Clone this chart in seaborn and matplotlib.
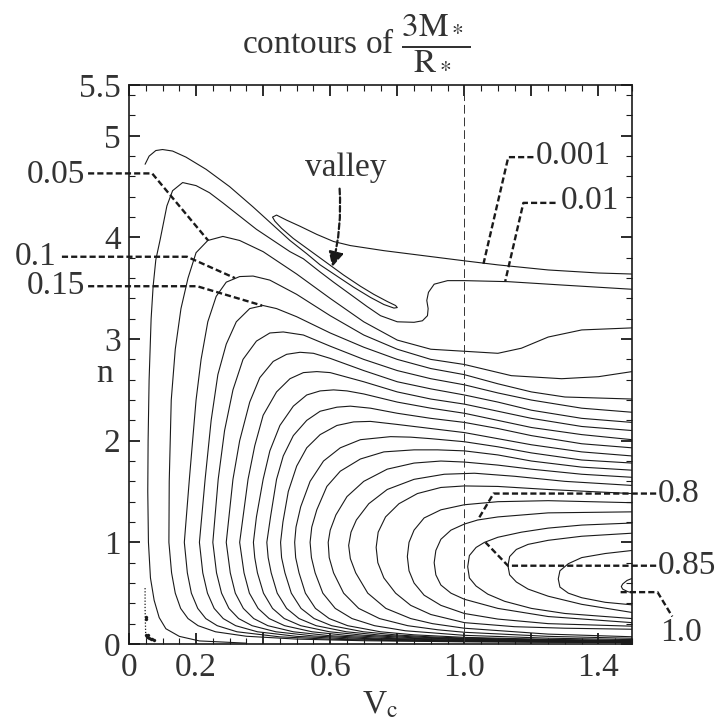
import numpy as np
import pandas as pd
import matplotlib
matplotlib.use("Agg")
import matplotlib.pyplot as plt
from matplotlib.ticker import FixedLocator, MultipleLocator
import seaborn as sns

# contour paths (V_c, n), one list per level
lvl_0001 = [(1.5, 3.64), (1.4, 3.65), (1.25, 3.68), (1.1, 3.73), (1.0, 3.77), (0.88, 3.82), (0.76, 3.87),
            (0.66, 3.92), (0.61, 3.96), (0.56, 4.03), (0.51, 4.11), (0.47, 4.17), (0.44, 4.22), (0.428, 4.20),
            (0.435, 4.16), (0.455, 4.09), (0.49, 3.99), (0.54, 3.87), (0.59, 3.75), (0.64, 3.63), (0.69, 3.52),
            (0.73, 3.44), (0.77, 3.37), (0.795, 3.33), (0.80, 3.31), (0.79, 3.305), (0.76, 3.34), (0.72, 3.41),
            (0.67, 3.51), (0.62, 3.62), (0.57, 3.73), (0.53, 3.84), (0.48, 3.97), (0.43, 4.12), (0.37, 4.30),
            (0.30, 4.50), (0.23, 4.67), (0.17, 4.79), (0.13, 4.85), (0.10, 4.865), (0.08, 4.855), (0.06, 4.80),
            (0.048, 4.72)]
lvl_001 = [(1.5, 3.49), (1.3, 3.53), (1.13, 3.565), (1.0, 3.575), (0.95, 3.575), (0.91, 3.54), (0.893, 3.46),
           (0.888, 3.38), (0.892, 3.30), (0.89, 3.23), (0.875, 3.18), (0.85, 3.165), (0.80, 3.17), (0.75, 3.23),
           (0.71, 3.32), (0.66, 3.44), (0.61, 3.56), (0.57, 3.66), (0.52, 3.79), (0.48, 3.86), (0.43, 3.97),
           (0.38, 4.08), (0.33, 4.21), (0.28, 4.34), (0.24, 4.44), (0.20, 4.51), (0.16, 4.54), (0.13, 4.46),
           (0.113, 4.31), (0.093, 3.98), (0.08, 3.78), (0.072, 3.52), (0.066, 3.2), (0.06, 2.6), (0.057, 2.0),
           (0.056, 1.5), (0.058, 1.0), (0.064, 0.65), (0.075, 0.43), (0.09, 0.26), (0.11, 0.15), (0.15, 0.075),
           (0.21, 0.03), (0.35, 0.008)]
lvl_005 = [(1.5, 3.11), (1.35, 3.09), (1.25, 3.02), (1.17, 2.91), (1.1, 2.86), (1.0, 2.88), (0.9, 2.90),
           (0.8, 2.99), (0.7, 3.17), (0.6, 3.40), (0.5, 3.64), (0.4, 3.86), (0.33, 3.97), (0.28, 4.01),
           (0.235, 3.97), (0.2, 3.85), (0.176, 3.6), (0.155, 3.3), (0.138, 2.9), (0.126, 2.4), (0.12, 1.6),
           (0.119, 1.0), (0.127, 0.7), (0.138, 0.5), (0.154, 0.35), (0.176, 0.25), (0.206, 0.18), (0.258, 0.12),
           (0.35, 0.076), (0.5, 0.048), (0.7, 0.032), (1.0, 0.021), (1.25, 0.017), (1.5, 0.014)]
lvl_010 = [(1.5, 2.68), (1.4, 2.63), (1.29, 2.61), (1.14, 2.64), (1.0, 2.75), (0.9, 2.80), (0.8, 2.90),
           (0.7, 3.04), (0.6, 3.23), (0.5, 3.44), (0.42, 3.58), (0.37, 3.62), (0.33, 3.615), (0.29, 3.56),
           (0.26, 3.42), (0.235, 3.17), (0.215, 2.8), (0.20, 2.4), (0.18, 1.62), (0.165, 1.0), (0.174, 0.7),
           (0.186, 0.5), (0.205, 0.35), (0.229, 0.25), (0.263, 0.18), (0.322, 0.12), (0.45, 0.07), (0.6, 0.047),
           (0.8, 0.033), (1.0, 0.025), (1.25, 0.019), (1.5, 0.016)]
lvl_015 = [(1.5, 2.41), (1.3, 2.43), (1.2, 2.48), (1.1, 2.56), (1.0, 2.65), (0.9, 2.71), (0.8, 2.80),
           (0.7, 2.92), (0.6, 3.06), (0.5, 3.22), (0.44, 3.30), (0.40, 3.33), (0.36, 3.30), (0.32, 3.17),
           (0.29, 2.95), (0.265, 2.65), (0.245, 2.2), (0.227, 1.62), (0.21, 1.0), (0.22, 0.7), (0.234, 0.5),
           (0.254, 0.35), (0.281, 0.25), (0.318, 0.18), (0.383, 0.12), (0.5, 0.075), (0.65, 0.051),
           (0.8, 0.039), (1.0, 0.029), (1.25, 0.022), (1.5, 0.018)]
lvl_020 = [(1.5, 2.28), (1.35, 2.32), (1.2, 2.40), (1.1, 2.47), (1.0, 2.55), (0.9, 2.61), (0.8, 2.69),
           (0.7, 2.80), (0.6, 2.93), (0.52, 3.04), (0.46, 3.07), (0.42, 3.06), (0.38, 2.98), (0.34, 2.8),
           (0.31, 2.5), (0.285, 2.1), (0.266, 1.62), (0.25, 1.0), (0.261, 0.7), (0.276, 0.5), (0.298, 0.35),
           (0.327, 0.25), (0.367, 0.18), (0.438, 0.12), (0.55, 0.079), (0.7, 0.054), (0.85, 0.041),
           (1.0, 0.033), (1.25, 0.025), (1.5, 0.02)]
lvl_025 = [(1.5, 2.18), (1.35, 2.22), (1.2, 2.30), (1.1, 2.38), (1.0, 2.45), (0.9, 2.51), (0.8, 2.58),
           (0.7, 2.69), (0.6, 2.81), (0.55, 2.86), (0.51, 2.87), (0.47, 2.85), (0.43, 2.78), (0.39, 2.62),
           (0.36, 2.38), (0.33, 2.0), (0.31, 1.62), (0.29, 1.0), (0.302, 0.7), (0.317, 0.5), (0.341, 0.35),
           (0.372, 0.25), (0.414, 0.18), (0.49, 0.12), (0.6, 0.081), (0.75, 0.056), (0.9, 0.043),
           (1.0, 0.037), (1.25, 0.028), (1.5, 0.022)]
lvl_030 = [(1.5, 2.10), (1.35, 2.14), (1.2, 2.22), (1.1, 2.29), (1.0, 2.36), (0.9, 2.41), (0.8, 2.48),
           (0.7, 2.58), (0.6, 2.67), (0.56, 2.68), (0.52, 2.67), (0.48, 2.61), (0.44, 2.48), (0.40, 2.25),
           (0.375, 1.95), (0.355, 1.62), (0.33, 1.0), (0.343, 0.7), (0.359, 0.5), (0.385, 0.35), (0.418, 0.25),
           (0.464, 0.18), (0.546, 0.12), (0.65, 0.084), (0.8, 0.059), (1.0, 0.042), (1.25, 0.031), (1.5, 0.025)]
lvl_035 = [(1.5, 2.01), (1.35, 2.06), (1.2, 2.13), (1.1, 2.20), (1.0, 2.27), (0.9, 2.32), (0.8, 2.38),
           (0.7, 2.46), (0.65, 2.49), (0.61, 2.50), (0.57, 2.49), (0.53, 2.45), (0.49, 2.34), (0.45, 2.15),
           (0.42, 1.9), (0.40, 1.62), (0.38, 1.25), (0.371, 1.0), (0.375, 0.85), (0.383, 0.7), (0.401, 0.5),
           (0.428, 0.35), (0.463, 0.25), (0.512, 0.18), (0.598, 0.12), (0.7, 0.086), (0.85, 0.061),
           (1.0, 0.047), (1.25, 0.034), (1.5, 0.027)]
lvl_040 = [(1.5, 1.93), (1.35, 1.97), (1.2, 2.05), (1.1, 2.12), (1.0, 2.18), (0.9, 2.22), (0.8, 2.27),
           (0.72, 2.32), (0.66, 2.34), (0.62, 2.33), (0.57, 2.29), (0.53, 2.2), (0.49, 2.05), (0.46, 1.85),
           (0.44, 1.62), (0.422, 1.25), (0.411, 1.0), (0.415, 0.85), (0.424, 0.7), (0.442, 0.5), (0.47, 0.35),
           (0.507, 0.25), (0.558, 0.18), (0.648, 0.12), (0.75, 0.087), (0.88, 0.065), (1.0, 0.052),
           (1.25, 0.037), (1.5, 0.029)]
lvl_045 = [(1.5, 1.85), (1.35, 1.89), (1.2, 1.96), (1.1, 2.02), (1.0, 2.08), (0.9, 2.12), (0.8, 2.16),
           (0.72, 2.19), (0.67, 2.185), (0.62, 2.15), (0.57, 2.06), (0.53, 1.93), (0.50, 1.75), (0.475, 1.5),
           (0.459, 1.2), (0.452, 1.0), (0.455, 0.85), (0.465, 0.7), (0.484, 0.5), (0.513, 0.35), (0.552, 0.25),
           (0.604, 0.18), (0.699, 0.12), (0.8, 0.088), (0.9, 0.07), (1.0, 0.058), (1.25, 0.041), (1.5, 0.031)]
lvl_050 = [(1.5, 1.78), (1.35, 1.81), (1.2, 1.88), (1.1, 1.94), (1.0, 1.99), (0.9, 2.02), (0.84, 2.035),
           (0.78, 2.04), (0.69, 2.01), (0.63, 1.93), (0.58, 1.8), (0.54, 1.6), (0.512, 1.35), (0.498, 1.15),
           (0.494, 1.0), (0.497, 0.85), (0.507, 0.7), (0.526, 0.5), (0.556, 0.35), (0.597, 0.25),
           (0.652, 0.18), (0.75, 0.12), (0.85, 0.09), (1.0, 0.065), (1.25, 0.045), (1.5, 0.034)]
lvl_055 = [(1.5, 1.71), (1.35, 1.74), (1.2, 1.80), (1.1, 1.86), (1.0, 1.90), (0.92, 1.91), (0.85, 1.91),
           (0.76, 1.89), (0.69, 1.82), (0.63, 1.70), (0.59, 1.55), (0.56, 1.32), (0.545, 1.15), (0.54, 1.0),
           (0.544, 0.85), (0.555, 0.7), (0.578, 0.5), (0.615, 0.35), (0.665, 0.25), (0.732, 0.18),
           (0.824, 0.13), (1.0, 0.085), (1.25, 0.057), (1.5, 0.043)]
lvl_060 = [(1.5, 1.64), (1.35, 1.67), (1.2, 1.72), (1.1, 1.76), (1.0, 1.79), (0.93, 1.80), (0.85, 1.78),
           (0.77, 1.72), (0.70, 1.60), (0.65, 1.45), (0.617, 1.27), (0.6, 1.12), (0.594, 1.0), (0.597, 0.85),
           (0.61, 0.7), (0.64, 0.5), (0.685, 0.35), (0.747, 0.25), (0.831, 0.18), (0.92, 0.14), (1.0, 0.115),
           (1.25, 0.075), (1.5, 0.056)]
lvl_065 = [(1.5, 1.56), (1.3, 1.60), (1.15, 1.65), (1.03, 1.68), (0.94, 1.67), (0.85, 1.62), (0.77, 1.52),
           (0.715, 1.38), (0.678, 1.22), (0.662, 1.1), (0.655, 0.97), (0.66, 0.84), (0.676, 0.7),
           (0.712, 0.5), (0.766, 0.35), (0.84, 0.25), (0.905, 0.2), (1.0, 0.155), (1.25, 0.097), (1.5, 0.071)]
lvl_070 = [(1.5, 1.48), (1.25, 1.52), (1.1, 1.55), (1.0, 1.555), (0.93, 1.54), (0.86, 1.48), (0.805, 1.38),
           (0.765, 1.25), (0.743, 1.1), (0.737, 0.95), (0.742, 0.8), (0.76, 0.65), (0.795, 0.50), (0.84, 0.38),
           (0.9, 0.29), (1.0, 0.21), (1.15, 0.17), (1.3, 0.155), (1.5, 0.145)]
lvl_075 = [(1.5, 1.39), (1.25, 1.41), (1.1, 1.40), (1.0, 1.37), (0.93, 1.32), (0.88, 1.24), (0.85, 1.12),
           (0.835, 1.0), (0.83, 0.86), (0.835, 0.72), (0.85, 0.6), (0.88, 0.48), (0.93, 0.38), (1.0, 0.30),
           (1.1, 0.245), (1.25, 0.20), (1.5, 0.175)]
lvl_080 = [(1.5, 1.30), (1.25, 1.29), (1.1, 1.25), (1.04, 1.22), (1.0, 1.18), (0.96, 1.12), (0.93, 1.03),
           (0.915, 0.92), (0.91, 0.80), (0.915, 0.68), (0.93, 0.58), (0.96, 0.50), (1.0, 0.44), (1.1, 0.35),
           (1.25, 0.27), (1.5, 0.21)]
lvl_085 = [(1.5, 1.19), (1.35, 1.17), (1.25, 1.14), (1.17, 1.10), (1.1, 1.05), (1.06, 1.0), (1.035, 0.95),
           (1.015, 0.87), (1.01, 0.76), (1.015, 0.65), (1.035, 0.57), (1.07, 0.49), (1.12, 0.42), (1.2, 0.35),
           (1.3, 0.30), (1.5, 0.25)]
lvl_090 = [(1.5, 1.09), (1.35, 1.06), (1.25, 1.02), (1.19, 0.98), (1.155, 0.93), (1.135, 0.86), (1.13, 0.77),
           (1.135, 0.68), (1.155, 0.61), (1.19, 0.54), (1.25, 0.47), (1.35, 0.39), (1.5, 0.31)]
lvl_095 = [(1.5, 0.92), (1.42, 0.89), (1.35, 0.85), (1.31, 0.79), (1.285, 0.72), (1.28, 0.64), (1.285, 0.56),
           (1.31, 0.50), (1.35, 0.455), (1.42, 0.41), (1.5, 0.385)]
lvl_100 = [(1.5, 0.645), (1.485, 0.625), (1.472, 0.59), (1.468, 0.565), (1.472, 0.54), (1.487, 0.515),
           (1.5, 0.505)]

contours = {"0.001": lvl_0001, "0.01": lvl_001, "0.05": lvl_005, "0.1": lvl_010, "0.15": lvl_015,
            "0.2": lvl_020, "0.25": lvl_025, "0.3": lvl_030, "0.35": lvl_035, "0.4": lvl_040,
            "0.45": lvl_045, "0.5": lvl_050, "0.55": lvl_055, "0.6": lvl_060, "0.65": lvl_065,
            "0.7": lvl_070, "0.75": lvl_075, "0.8": lvl_080, "0.85": lvl_085, "0.9": lvl_090,
            "0.95": lvl_095, "1.0": lvl_100}

# numerical noise near the origin
noise_v = [0.050, 0.052, 0.055, 0.060, 0.058, 0.070, 0.065, 0.050, 0.075]
noise_n = [0.27, 0.09, 0.07, 0.06, 0.09, 0.05, 0.045, 0.25, 0.04]
dotted_v = [0.048, 0.048, 0.049, 0.050]
dotted_n = [0.55, 0.35, 0.20, 0.07]

# label pointers
pointer_005 = [(-0.122, 4.63), (0.069, 4.63), (0.236, 3.97)]
pointer_010 = [(-0.200, 3.81), (0.173, 3.81), (0.316, 3.60)]
pointer_015 = [(-0.122, 3.52), (0.203, 3.52), (0.397, 3.33)]
pointer_0001 = [(1.206, 4.79), (1.131, 4.79), (1.057, 3.74)]
pointer_001 = [(1.272, 4.34), (1.176, 4.34), (1.122, 3.57)]
pointer_080 = [(1.572, 1.48), (1.087, 1.48), (1.040, 1.22)]
pointer_085 = [(1.572, 0.77), (1.130, 0.77), (1.063, 1.00)]
pointer_100 = [(1.466, 0.51), (1.576, 0.51), (1.620, 0.27)]
pointers = [pointer_005, pointer_010, pointer_015, pointer_0001, pointer_001,
            pointer_080, pointer_085, pointer_100]

label_text = ["0.05", "0.1", "0.15", "0.001", "0.01", "0.8", "0.85", "1.0"]
label_pos = [(-0.131, 4.62), (-0.215, 3.81), (-0.131, 3.52), (1.212, 4.80),
             (1.287, 4.36), (1.578, 1.48), (1.578, 0.77), (1.585, 0.11)]
label_ha = ["right", "right", "right", "left", "left", "left", "left", "left"]

x_ticks = [0, 0.2, 0.4, 0.6, 0.8, 1.0, 1.2, 1.4]
x_ticklabels = ["0", "0.2", "", "0.6", "", "1.0", "", "1.4"]
y_ticks = [0, 1, 2, 3, 4, 5, 5.5]
y_ticklabels = ["0", "1", "2", "3", "4", "5", "5.5"]

FS = 24

sns.set_theme(style="ticks")
plt.rcParams["font.family"] = ["Liberation Serif", "DejaVu Serif"]
plt.rcParams["mathtext.fontset"] = "stix"

rows = []
for name, pts in contours.items():
    for v, n in pts:
        rows.append({"level": name, "V": v, "n": n})
df = pd.DataFrame(rows)

fig = plt.figure(figsize=(7.17, 7.27), dpi=100)
ax = fig.add_axes([0.1799, 0.1142, 0.7016, 0.7689])

sns.lineplot(data=df, x="V", y="n", units="level", estimator=None, sort=False,
             color="#1a1a1a", lw=0.8, legend=False, ax=ax)
ax.plot(dotted_v, dotted_n, ls=(0, (1, 1.5)), color="#1a1a1a", lw=0.9)
sns.scatterplot(x=noise_v, y=noise_n, s=5, color="#1a1a1a", edgecolor=None, ax=ax, legend=False)

ax.axvline(1.0, ls=(0, (9, 4)), lw=0.7, color="#333333")

dash = (0, (2.6, 1.3))
for p in pointers:
    ax.plot([q[0] for q in p], [q[1] for q in p], ls=dash, lw=1.7, color="#1a1a1a", clip_on=False)
for txt, (v, n), ha in zip(label_text, label_pos, label_ha):
    ax.text(v, n, txt, ha=ha, va="center", fontsize=FS, color="#333333", clip_on=False)

ax.text(0.645, 4.69, "valley", ha="center", va="center", fontsize=FS, color="#333333")
ax.annotate("", xy=(0.606, 3.71), xytext=(0.628, 4.48),
            arrowprops=dict(arrowstyle="-|>", linestyle=dash, lw=1.6, color="#1a1a1a",
                            mutation_scale=22, connectionstyle="arc3,rad=-0.08",
                            shrinkA=0, shrinkB=0))

ax.set_xlim(0, 1.5)
ax.set_ylim(0, 5.5)
ax.xaxis.set_major_locator(FixedLocator(x_ticks))
ax.set_xticklabels(x_ticklabels)
ax.xaxis.set_minor_locator(MultipleLocator(0.05))
ax.yaxis.set_major_locator(FixedLocator(y_ticks))
ax.set_yticklabels(y_ticklabels)
ax.yaxis.set_minor_locator(MultipleLocator(0.2))
ax.tick_params(which="both", direction="in", top=True, right=True, colors="#1a1a1a",
               labelcolor="#333333", labelsize=FS)
ax.tick_params(which="major", length=8, width=1.3, pad=6)
ax.tick_params(which="minor", length=4, width=0.8)
for s in ax.spines.values():
    s.set_linewidth(1.2)
    s.set_color("#1a1a1a")

ax.set_xlabel("")
ax.set_ylabel("")
fig.text(0.146, 0.486, "n", ha="center", va="center", fontsize=FS, color="#333333")
fig.text(0.530, 0.030, r"V$_\mathrm{c}$", ha="center", va="center", fontsize=FS, color="#333333")
fig.text(0.497, 0.943, r"contours of $\dfrac{3\mathrm{M}_*}{\mathrm{R}_*}$", ha="center", va="center",
         fontsize=FS, color="#333333")

fig.savefig("out.png", dpi=100)
